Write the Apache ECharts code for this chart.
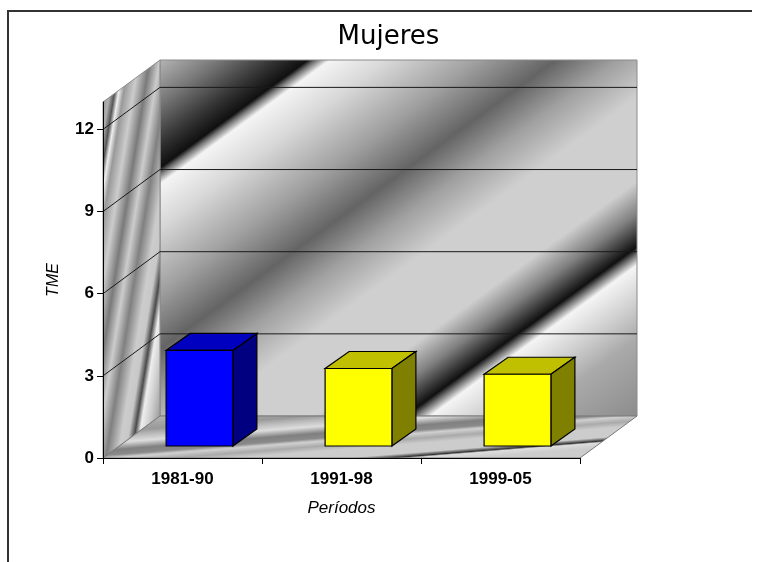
<!DOCTYPE html>
<html><head><meta charset="utf-8">
<style>html,body{margin:0;padding:0;background:#fff}#c{width:766px;height:562px}</style>
<script src="https://cdn.jsdelivr.net/npm/echarts@6/dist/echarts.min.js"></script>
</head><body><div id="c"></div>
<script>
const categories = ['1981-90', '1991-98', '1999-05'];
const values = [3.49, 2.83, 2.62];
const yTicks = [0, 3, 6, 9, 12];
const gridTicks = [3, 6, 9, 12];
const yMax = 13;

const faceColors = [
  {front: '#0000ff', top: '#0000c0', side: '#000080'},
  {front: '#ffff00', top: '#c0c000', side: '#808000'},
  {front: '#ffff00', top: '#c0c000', side: '#808000'}
];
const WALL_DX = 57, WALL_DY = -42;
const BAR_SHIFT_X = 17, BAR_SHIFT_Y = -12, BAR_DX = 24, BAR_DY = -17, BAR_RATIO = 0.42;

function grad(x0, y0, x2, y2, s0, s1, stops) {
  return {type: 'linear', x: x0, y: y0, x2: x2, y2: y2, global: true,
    colorStops: stops.map(p => ({offset: (p[0] - s0) / (s1 - s0), color: p[1]}))};
}
const backFill = grad(160, 60, 495.4, 519.5, 242, 1207, [
  [242,'#b4b4b4'],[300,'#787878'],[360,'#303030'],[390,'#101010'],[398,'#707070'],[412,'#f4f4f4'],
  [470,'#d8d8d8'],[560,'#a0a0a0'],[638,'#646464'],[700,'#a0a0a0'],[770,'#cfcfcf'],[885,'#cfcfcf'],
  [930,'#808080'],[975,'#101010'],[985,'#707070'],[1000,'#f4f4f4'],[1050,'#d0d0d0'],[1100,'#aaaaaa'],[1207,'#8c8c8c']
]);
const sideFill = grad(103, 102, 208.3, 118.85, 119, 227, [
  [119,'#999999'],[124,'#b0b0b0'],[129,'#555555'],[133,'#eeeeee'],[138,'#999999'],[148,'#cccccc'],
  [159,'#7a7a7a'],[169,'#cccccc'],[179,'#808080'],[191,'#cccccc'],[198,'#c8c8c8'],[204,'#4a4a4a'],
  [209,'#eeeeee'],[217,'#cccccc'],[227,'#999999']
]);
const floorFill = grad(160, 417, 165.9, 490.5, 430, 504, [
  [430,'#b0b0b0'],[441,'#999999'],[446,'#bbbbbb'],[452,'#dddddd'],[459,'#808080'],[464,'#8a8a8a'],
  [467,'#d0d0d0'],[472,'#aaaaaa'],[477,'#cccccc'],[486,'#cccccc'],[489.5,'#333333'],[491,'#dddddd'],
  [496,'#cccccc'],[504,'#cccccc']
]);

function poly(points, fill, stroke, lw) {
  return {type: 'polygon', shape: {points}, style: {fill, stroke: stroke || 'none', lineWidth: lw || 0}};
}

const chart = echarts.init(document.getElementById('c'), null, {renderer: 'canvas'});
chart.setOption({
  animation: false,
  backgroundColor: '#fff',
  title: {
    text: 'Mujeres', left: 383.5, top: 19, textAlign: 'center',
    textStyle: {fontFamily: '"DejaVu Sans"', fontSize: 26, fontWeight: 'normal', color: '#000'}
  },
  graphic: [{
    type: 'polyline', silent: true,
    shape: {points: [[8, 562], [8, 11], [752, 11]]},
    style: {stroke: '#333', lineWidth: 2, fill: 'none'}
  }],
  grid: {left: 103, right: 186, top: 102, bottom: 104},
  xAxis: {
    type: 'category', data: categories, z: 10,
    axisLine: {lineStyle: {color: '#000', width: 1}},
    axisTick: {show: true, alignWithLabel: false, length: 6, lineStyle: {color: '#000'}},
    axisLabel: {margin: 13, fontFamily: '"Liberation Sans"', fontSize: 17, fontWeight: 'bold', color: '#000'},
    name: 'Períodos', nameLocation: 'middle', nameGap: 42,
    nameTextStyle: {fontFamily: '"Liberation Sans"', fontSize: 17, fontStyle: 'italic', color: '#000'},
    splitLine: {show: false}
  },
  yAxis: {
    type: 'value', min: 0, max: yMax, interval: 3, z: 10,
    axisLine: {show: true, lineStyle: {color: '#000', width: 1}},
    axisTick: {show: true, length: 6, customValues: yTicks, lineStyle: {color: '#000'}},
    axisLabel: {margin: 9, customValues: yTicks, fontFamily: '"Liberation Sans"', fontSize: 17, fontWeight: 'bold', color: '#000'},
    name: 'TME', nameLocation: 'middle', nameGap: 41, nameRotate: 90,
    nameTextStyle: {fontFamily: '"Liberation Sans"', fontSize: 16, fontStyle: 'italic', color: '#000'},
    splitLine: {show: false}
  },
  series: [
    {
      type: 'custom', name: 'walls', z: 3, silent: true, clip: false,
      data: [[0]],
      encode: {x: [], y: []},
      renderItem(params, api) {
        const half = api.size([1, 0])[0] / 2;
        const c0 = api.coord([0, 0]), c2 = api.coord([categories.length - 1, yMax]);
        const l = c0[0] - half, r = c2[0] + half, b = c0[1], t = c2[1];
        const d = (p) => [p[0] + WALL_DX, p[1] + WALL_DY];
        return {type: 'group', children: [
          poly([d([l, t]), d([r, t]), d([r, b]), d([l, b])], backFill, '#8a8a8a', 1),
          poly([[l, t], d([l, t]), d([l, b]), [l, b]], sideFill, '#8a8a8a', 1),
          poly([[l, b], [r, b], d([r, b]), d([l, b])], floorFill, '#7a7a7a', 1)
        ]};
      }
    },
    {
      type: 'custom', name: 'gridlines', z: 4, silent: true, clip: false,
      data: gridTicks.map(v => [0, v]),
      renderItem(params, api) {
        const half = api.size([1, 0])[0] / 2;
        const v = api.value(1);
        const p = api.coord([0, v]);
        const l = p[0] - half;
        const r = api.coord([categories.length - 1, v])[0] + half;
        const ls = {stroke: '#1a1a1a', lineWidth: 1, fill: 'none'};
        return {type: 'polyline', shape: {points: [[l, p[1]], [l + WALL_DX, p[1] + WALL_DY], [r + WALL_DX, p[1] + WALL_DY]]}, style: ls};
      }
    },
    {
      type: 'custom', name: 'TME', z: 5, clip: false,
      data: values.map((v, i) => [i, v]),
      renderItem(params, api) {
        const i = api.value(0), v = api.value(1);
        const top = api.coord([i, v]), base = api.coord([i, 0]);
        const w = api.size([1, 0])[0] * BAR_RATIO;
        const x0 = top[0] + BAR_SHIFT_X - w / 2, x1 = x0 + w;
        const y0 = top[1] + BAR_SHIFT_Y, y1 = base[1] + BAR_SHIFT_Y;
        const c = faceColors[i];
        return {type: 'group', children: [
          poly([[x0, y0], [x1, y0], [x1 + BAR_DX, y0 + BAR_DY], [x0 + BAR_DX, y0 + BAR_DY]], c.top, '#000', 1.2),
          poly([[x1, y0], [x1 + BAR_DX, y0 + BAR_DY], [x1 + BAR_DX, y1 + BAR_DY], [x1, y1]], c.side, '#000', 1.2),
          poly([[x0, y0], [x1, y0], [x1, y1], [x0, y1]], c.front, '#000', 1.2)
        ]};
      }
    }
  ]
});
</script></body></html>
